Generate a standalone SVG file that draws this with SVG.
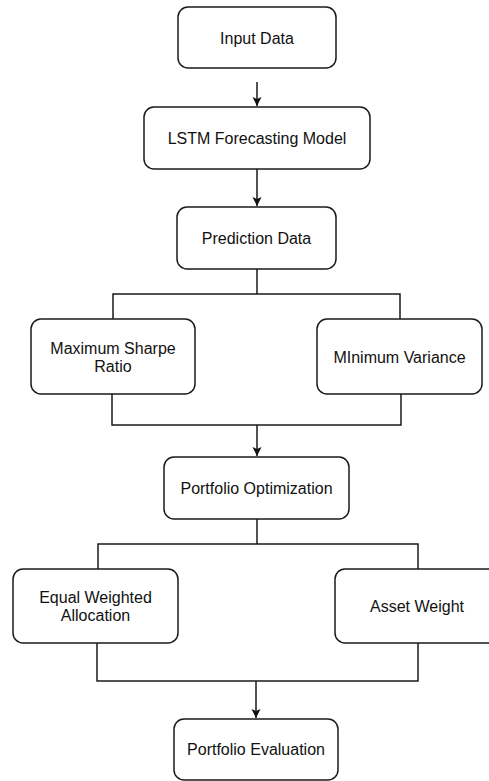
<svg xmlns="http://www.w3.org/2000/svg" width="489" height="781" viewBox="0 0 489 781">
<style>
.box{fill:#fff;stroke:#1a1a1a;stroke-width:1.5}
.lbl{font-family:"Liberation Sans",Arial,sans-serif;font-size:16px;fill:#111;text-anchor:middle}
.ln{fill:none;stroke:#1a1a1a;stroke-width:1.5}
</style>
<defs>
<marker id="ah" markerUnits="userSpaceOnUse" markerWidth="12" markerHeight="12" viewBox="0 0 12 12" refX="10" refY="6" orient="auto">
<path d="M1,1.5 L10,6 L1,10.5 L3,6 Z" fill="#111"/>
</marker>
</defs>
<rect width="489" height="781" fill="#fff"/>
<g id="connectors">
<path class="ln" d="M257,82 V106" marker-end="url(#ah)"/>
<path class="ln" d="M257,169 V206" marker-end="url(#ah)"/>
<path class="ln" d="M257,269 V294 M113,319 V294 H400 V319"/>
<path class="ln" d="M112,394 V425 H401 V394"/>
<path class="ln" d="M257,425 V456" marker-end="url(#ah)"/>
<path class="ln" d="M257,519 V544 M98,569 V544 H418 V569"/>
<path class="ln" d="M97,643 V681 H418 V643"/>
<path class="ln" d="M256,681 V718" marker-end="url(#ah)"/>
</g>
<g id="input-data"><rect class="box" x="178" y="7" width="158" height="61" rx="10"/><text class="lbl" x="257" y="43.5">Input Data</text></g>
<g id="lstm"><rect class="box" x="144" y="107" width="226" height="62" rx="10"/><text class="lbl" x="257" y="144">LSTM Forecasting Model</text></g>
<g id="prediction-data"><rect class="box" x="177" y="207" width="159" height="62" rx="10"/><text class="lbl" x="256.5" y="244">Prediction Data</text></g>
<g id="max-sharpe"><rect class="box" x="31" y="319" width="164" height="75" rx="10"/><text class="lbl" x="113" y="354">Maximum Sharpe</text><text class="lbl" x="113" y="372">Ratio</text></g>
<g id="min-variance"><rect class="box" x="317" y="319" width="165" height="75" rx="10"/><text class="lbl" x="399.5" y="362.5">MInimum Variance</text></g>
<g id="portfolio-optimization"><rect class="box" x="164" y="457" width="185" height="62" rx="10"/><text class="lbl" x="256.5" y="494">Portfolio Optimization</text></g>
<g id="equal-weighted"><rect class="box" x="13" y="569" width="165" height="74" rx="10"/><text class="lbl" x="95.5" y="603">Equal Weighted</text><text class="lbl" x="95.5" y="621">Allocation</text></g>
<g id="asset-weight"><rect class="box" x="335" y="569" width="164" height="74" rx="10"/><text class="lbl" x="417" y="612">Asset Weight</text></g>
<g id="portfolio-evaluation"><rect class="box" x="174" y="719" width="164" height="61" rx="10"/><text class="lbl" x="256" y="755">Portfolio Evaluation</text></g>
</svg>
